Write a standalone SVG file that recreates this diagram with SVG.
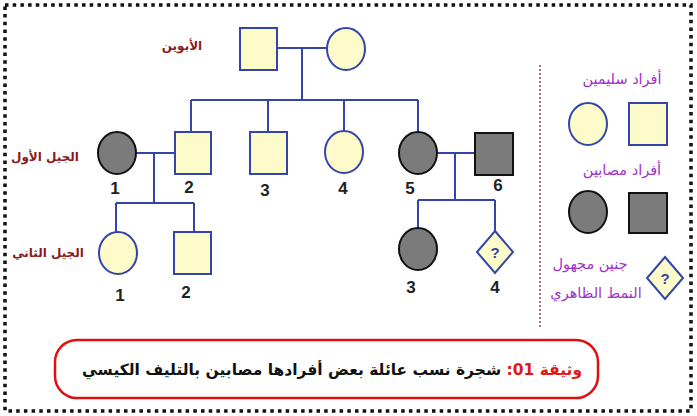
<svg xmlns="http://www.w3.org/2000/svg" width="697" height="416" viewBox="0 0 697 416">
<style>
.h{fill:#fdfbc9;stroke:#3344aa;stroke-width:2}
.a{fill:#7b7b7b;stroke:#111;stroke-width:2}
.ln{stroke:#3344aa;stroke-width:2;fill:none}
.num{font-family:"Liberation Sans",Arial,sans-serif;font-weight:bold;font-size:17px;fill:#222;text-anchor:middle}
.gen{font-family:"DejaVu Sans",sans-serif;font-weight:bold;font-size:12px;fill:#8b1a1a;text-anchor:middle}
.leg{font-family:"DejaVu Sans",sans-serif;font-size:14.5px;fill:#a030c8;text-anchor:middle}
.q{font-family:"Liberation Sans",Arial,sans-serif;font-weight:bold;font-size:15px;fill:#3344aa;text-anchor:middle}
</style>
<rect x="0" y="0" width="697" height="416" fill="#ffffff"/>
<rect x="5" y="5" width="686" height="406" fill="none" stroke="#111" stroke-width="3.5" stroke-dasharray="3.5 4.2"/>
<g id="connectors">
<path class="ln" d="M277 48H327M302 48V100M191 100H418M191 100V132M268 100V132M344 100V131M418 100V131"/>
<path class="ln" d="M136 153H175M154 153V203M116 203H194M116 203V232M194 203V232"/>
<path class="ln" d="M437 153H475M455 153V200M418 200H495M418 200V228M495 200V231"/>
</g>
<line x1="540" y1="65" x2="540" y2="327" stroke="#8b4a4a" stroke-width="1.5" stroke-dasharray="2 2"/>
<g id="parent-father"><rect class="h" x="240" y="28" width="37" height="42"/></g>
<g id="parent-mother"><ellipse class="h" cx="346" cy="49" rx="19" ry="21"/></g>
<g id="g1-1"><ellipse class="a" cx="117" cy="153" rx="19" ry="21"/><text class="num" x="115" y="194">1</text></g>
<g id="g1-2"><rect class="h" x="175" y="132" width="36" height="42"/><text class="num" x="189" y="193">2</text></g>
<g id="g1-3"><rect class="h" x="250" y="132" width="37" height="42"/><text class="num" x="265" y="196">3</text></g>
<g id="g1-4"><ellipse class="h" cx="344" cy="152" rx="19" ry="21"/><text class="num" x="343" y="194">4</text></g>
<g id="g1-5"><ellipse class="a" cx="418" cy="153" rx="19" ry="21"/><text class="num" x="410" y="194">5</text></g>
<g id="g1-6"><rect class="a" x="475" y="133" width="38" height="42"/><text class="num" x="498" y="191">6</text></g>
<g id="g2-1"><ellipse class="h" cx="118" cy="253" rx="19" ry="21"/><text class="num" x="120" y="301">1</text></g>
<g id="g2-2"><rect class="h" x="174" y="232" width="37" height="42"/><text class="num" x="186" y="298">2</text></g>
<g id="g2-3"><ellipse class="a" cx="418" cy="249" rx="19" ry="21"/><text class="num" x="411" y="293">3</text></g>
<g id="g2-4"><polygon class="h" points="495,231 513,252 495,273 477,252"/><text class="q" x="495" y="258">?</text><text class="num" x="495" y="293">4</text></g>
<text class="gen" x="182" y="50">الأبوين</text>
<text class="gen" x="45" y="161">الجيل الأول</text>
<text class="gen" x="48" y="257">الجيل الثاني</text>
<g id="legend">
<text class="leg" x="622" y="84" font-size="15">أفراد سليمين</text>
<ellipse class="h" cx="588" cy="124" rx="19" ry="21"/>
<rect class="h" x="629" y="103" width="38" height="42"/>
<text class="leg" x="622" y="175" font-size="15">أفراد مصابين</text>
<ellipse class="a" cx="588" cy="212" rx="19" ry="21"/>
<rect class="a" x="629" y="193" width="38" height="40"/>
<text class="leg" x="590" y="269" font-size="12.5">جنين مجهول</text>
<text class="leg" x="596" y="298">النمط الظاهري</text>
<polygon class="h" points="665,257 683,278 665,299 647,278"/>
<text class="q" x="665" y="284">?</text>
</g>
<g id="caption">
<rect x="55" y="340" width="543" height="58" rx="22" fill="none" stroke="#e01010" stroke-width="2.5"/>
<text x="332" y="375" direction="rtl" text-anchor="middle" font-family="DejaVu Sans, sans-serif" font-size="15.5" font-weight="bold" fill="#111"><tspan fill="#e01818">وثيقة 01:</tspan> شجرة نسب عائلة بعض أفرادها مصابين بالتليف الكيسي</text>
</g>
</svg>
